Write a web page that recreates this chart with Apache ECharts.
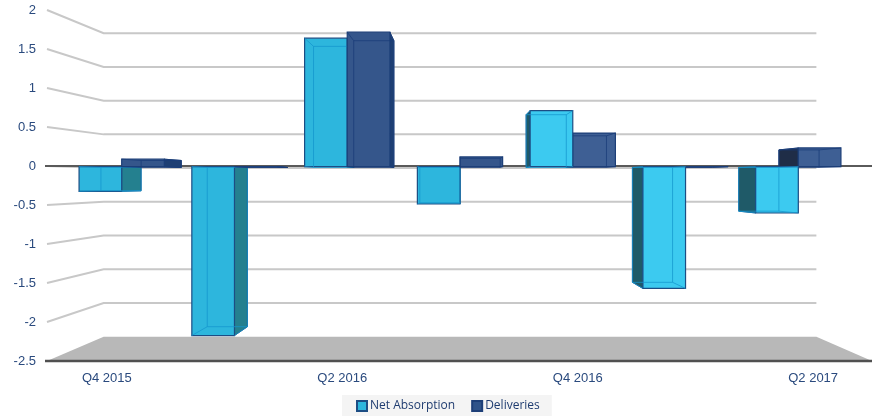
<!DOCTYPE html>
<html>
<head>
<meta charset="utf-8">
<script src="https://cdn.jsdelivr.net/npm/echarts@6/dist/echarts.min.js"></script>
<style>
html, body { margin: 0; padding: 0; background: #fff; }
#chart { width: 876px; height: 416px; }
</style>
</head>
<body>
<div id="chart"></div>
<script>
var quarters = ['Q4 2015', 'Q1 2016', 'Q2 2016', 'Q3 2016', 'Q4 2016', 'Q1 2017', 'Q2 2017'];
var netAbsorption = [-0.33, -2.26, 1.72, -0.50, 0.75, -1.63, -0.62];
var deliveries = [0.10, 0, 1.80, 0.13, 0.45, 0, 0.25];
var yTicks = [-2.5, -2, -1.5, -1, -0.5, 0, 0.5, 1, 1.5, 2];

// depth ratios toward the eye point (front plane = 1)
var BACK = 0.865, BAR_FRONT = 0.958, BAR_BACK = 0.903;

function eye(params, api) {
    var cs = params.coordSys;
    return [cs.x + cs.width / 2, api.coord([0, -0.2])[1]];
}
function proj(p, r, v) {
    return [v[0] + (p[0] - v[0]) * r, v[1] + (p[1] - v[1]) * r];
}

// back wall gridlines, perspective lines and floor
function renderWalls(params, api) {
    var cs = params.coordSys;
    var v = eye(params, api);
    var t = api.value(1);
    var y = api.coord([0, t])[1];
    var fl = [cs.x - 1, y], fr = [cs.x + cs.width, y];
    var bl = proj([cs.x, y], BACK, v), br = proj(fr, BACK, v);
    var kids = [];
    if (t === yTicks[0]) {
        kids.push({ type: 'polygon', shape: { points: [fl, fr, br, bl] }, style: { fill: '#b8b8b8' } });
        kids.push({ type: 'line', shape: { x1: cs.x - 3, y1: y, x2: fr[0], y2: y }, style: { stroke: '#505050', lineWidth: 2.5 } });
    } else {
        kids.push({ type: 'polyline', shape: { points: [[cs.x - 1, y], bl, br] }, style: { stroke: '#c8c8c8', lineWidth: 2, fill: null } });
    }
    if (t === 0) {
        kids.push({ type: 'line', shape: { x1: cs.x - 3, y1: y, x2: fr[0], y2: y }, style: { stroke: '#5a5a5a', lineWidth: 2 } });
    }
    return { type: 'group', children: kids };
}

var netStyle = { frontL: '#2db6dd', frontR: '#3ccaf0', sideR: '#24808f', sideL: '#1f5a68', line: '#1c4d84', inner: 'rgba(20,150,205,0.75)' };
var delStyle = { frontL: '#35568b', frontR: '#3e5f94', sideR: '#1e3f73', sideL: '#1f2d47', line: '#1d3f78', inner: 'rgba(25,60,120,0.75)' };

function box(x0, x1, yz, yv, v, st, kids) {
    var f = [[x0, yz], [x1, yz], [x1, yv], [x0, yv]];
    var F = f.map(function (p) { return proj(p, BAR_FRONT, v); });
    var B = f.map(function (p) { return proj(p, BAR_BACK, v); });
    if (F[1][0] < v[0]) {
        kids.push({ type: 'polygon', shape: { points: [F[1], B[1], B[2], F[2]] }, style: { fill: st.sideR, stroke: st.line, lineWidth: 1 } });
    } else if (F[0][0] > v[0]) {
        kids.push({ type: 'polygon', shape: { points: [F[0], B[0], B[3], F[3]] }, style: { fill: st.sideL, stroke: st.line, lineWidth: 1 } });
    }
    kids.push({ type: 'polygon', shape: { points: F }, style: { fill: F[0][0] < v[0] ? st.frontL : st.frontR, stroke: st.line, lineWidth: 1.2 } });
    kids.push({ type: 'polygon', shape: { points: B }, style: { fill: null, stroke: st.inner, lineWidth: 1 } });
    for (var k = 0; k < 4; k++) {
        kids.push({ type: 'line', shape: { x1: F[k][0], y1: F[k][1], x2: B[k][0], y2: B[k][1] }, style: { stroke: st.inner, lineWidth: 1 } });
    }
}

function renderBars(params, api) {
    var v = eye(params, api);
    var i = api.value(0);
    var c = api.coord([i, 0]);
    var w = api.size([1, 0])[0] * 0.378;
    var yNet = api.coord([i, api.value(1)])[1];
    var yDel = api.coord([i, api.value(2)])[1];
    var kids = [];
    var first = function () { box(c[0] - w, c[0], c[1], yNet, v, netStyle, kids); };
    var second = function () { box(c[0], c[0] + w, c[1], yDel, v, delStyle, kids); };
    // outer bar first so the bar nearer the centre sits on top
    if (c[0] < v[0]) { first(); second(); } else { second(); first(); }
    return { type: 'group', children: kids };
}

var myChart = echarts.init(document.getElementById('chart'));

var option = {
    animation: false,
    textStyle: { fontFamily: 'Liberation Sans' },
    grid: { left: 48, right: 4, top: 10, bottom: 55 },
    legend: {
        data: ['Net Absorption', 'Deliveries'],
        left: 342,
        bottom: 0,
        backgroundColor: '#f4f4f4',
        padding: [5, 12, 4, 14],
        itemWidth: 10,
        itemHeight: 10,
        itemGap: 16,
        icon: 'rect',
        textStyle: { color: '#1f3c70', fontSize: 12, fontFamily: 'Open Sans', padding: [0, 0, 0, -2] }
    },
    xAxis: {
        type: 'category',
        data: quarters,
        axisLine: { show: false },
        axisTick: { show: false },
        axisLabel: { interval: 1, color: '#2a4a7e', fontSize: 13, margin: 11 }
    },
    yAxis: {
        type: 'value',
        min: -2.5,
        max: 2,
        interval: 0.5,
        axisLine: { show: false },
        axisTick: { show: false },
        splitLine: { show: false },
        axisLabel: { color: '#2a4a7e', fontSize: 13, margin: 12 }
    },
    series: [
        {
            type: 'custom',
            silent: true,
            z: 1,
            renderItem: renderWalls,
            data: yTicks.map(function (t) { return [0, t]; })
        },
        {
            name: 'Net Absorption',
            type: 'custom',
            z: 3,
            itemStyle: { color: '#2db6dd', borderColor: '#1c4d84', borderWidth: 1 },
            renderItem: renderBars,
            encode: { x: 0, y: [1, 2] },
            data: quarters.map(function (q, i) { return [i, netAbsorption[i], deliveries[i]]; })
        },
        {
            name: 'Deliveries',
            type: 'custom',
            itemStyle: { color: '#2f5389', borderColor: '#1d3f78', borderWidth: 1 },
            renderItem: function () { return null; },
            data: []
        }
    ]
};

myChart.setOption(option);
</script>
</body>
</html>
